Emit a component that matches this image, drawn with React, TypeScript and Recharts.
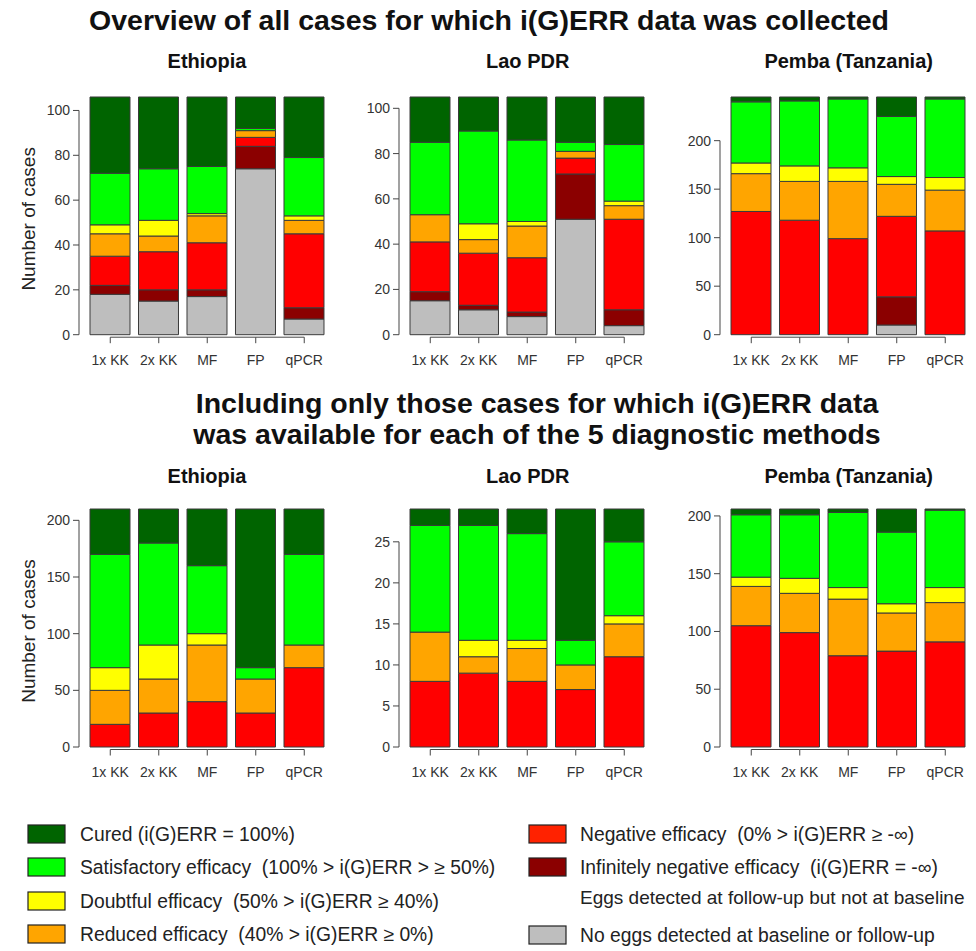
import React from 'react'
import { BarChart, Bar, XAxis, YAxis } from 'recharts'

const METHODS = ['1x KK', '2x KK', 'MF', 'FP', 'qPCR']

// overview of all cases, Ethiopia
const ethAllNoEggs = [18, 15, 17, 74, 7]
const ethAllInfNeg = [4, 5, 3, 10, 5]
const ethAllNegative = [13, 17, 21, 4, 33]
const ethAllReduced = [10, 7, 12, 3, 6]
const ethAllDoubtful = [4, 7, 1, 0, 2]
const ethAllSatisfactory = [23, 23, 21, 1, 26]
const ethAllCured = [34, 32, 31, 14, 27]

// overview of all cases, Lao PDR
const laoAllNoEggs = [15, 11, 8, 51, 4]
const laoAllInfNeg = [4, 2, 2, 20, 7]
const laoAllNegative = [22, 23, 24, 7, 40]
const laoAllReduced = [12, 6, 14, 3, 6]
const laoAllDoubtful = [0, 7, 2, 0, 2]
const laoAllSatisfactory = [32, 41, 36, 4, 25]
const laoAllCured = [20, 15, 19, 20, 21]

// overview of all cases, Pemba
const pemAllNoEggs = [0, 0, 0, 10, 0]
const pemAllInfNeg = [0, 0, 0, 29, 0]
const pemAllNegative = [127, 118, 99, 83, 107]
const pemAllReduced = [39, 40, 59, 33, 42]
const pemAllDoubtful = [11, 16, 14, 8, 13]
const pemAllSatisfactory = [63, 67, 71, 62, 81]
const pemAllCured = [5, 4, 2, 20, 2]

// complete cases only
const ethNegative = [20, 30, 40, 30, 70]
const ethReduced = [30, 30, 50, 30, 20]
const ethDoubtful = [20, 30, 10, 0, 0]
const ethSatisfactory = [100, 90, 60, 10, 80]
const ethCured = [40, 30, 50, 140, 40]

const laoNegative = [8, 9, 8, 7, 11]
const laoReduced = [6, 2, 4, 3, 4]
const laoDoubtful = [0, 2, 1, 0, 1]
const laoSatisfactory = [13, 14, 13, 3, 9]
const laoCured = [2, 2, 3, 16, 4]

const pemNegative = [105, 99, 79, 83, 91]
const pemReduced = [34, 34, 49, 33, 34]
const pemDoubtful = [8, 13, 10, 8, 13]
const pemSatisfactory = [54, 55, 65, 62, 67]
const pemCured = [5, 5, 3, 20, 1]
const NONE = [0, 0, 0, 0, 0]

const TICKS_100 = [0, 20, 40, 60, 80, 100]
const TICKS_200 = [0, 50, 100, 150, 200]
const TICKS_25 = [0, 5, 10, 15, 20, 25]

// stacking order, bottom to top
const SERIES = [
  { key: 'noEggs', color: '#bebebe' },
  { key: 'infNeg', color: '#8b0000' },
  { key: 'negative', color: '#ff0000' },
  { key: 'reduced', color: '#ffa500' },
  { key: 'doubtful', color: '#ffff00' },
  { key: 'satisfactory', color: '#00ff00' },
  { key: 'cured', color: '#006400' },
]

const LEGEND_LEFT = [
  { label: 'Cured (i(G)ERR = 100%)', color: '#006400' },
  { label: 'Satisfactory efficacy  (100% > i(G)ERR > ≥ 50%)', color: '#00ff00' },
  { label: 'Doubtful efficacy  (50% > i(G)ERR ≥ 40%)', color: '#ffff00' },
  { label: 'Reduced efficacy  (40% > i(G)ERR ≥ 0%)', color: '#ffa500' },
]
const LEGEND_RIGHT = [
  { label: 'Negative efficacy  (0% > i(G)ERR ≥ -∞)', color: '#ff2200' },
  { label: 'Infinitely negative efficacy  (i(G)ERR = -∞)', color: '#8b0000' },
  { label: 'No eggs detected at baseline or follow-up', color: '#bebebe' },
]
const LEFT_ROWS = [834, 867, 901, 934]
const RIGHT_ROWS = [834, 867, 935]

const FONT = '"Liberation Sans", Arial, sans-serif'
const AXIS = '#444'
const PLOT_W = 242.5
const Y_AXIS_W = 80
const M_TOP = 10
const M_RIGHT = 5
const X_AXIS_H = 50

function Panel({ series, ticks, total, plotLeft, plotTop, plotH, title, titleTop, yLabel }: any) {
  const data = METHODS.map((m, i) => {
    const row: any = { method: m }
    SERIES.forEach((s) => { row[s.key] = series[s.key][i] })
    return row
  })
  const stepPx = (plotH * (ticks[1] - ticks[0])) / total
  const band = PLOT_W / METHODS.length

  const YTick = ({ x, y, payload, index }: any) => {
    const ax = x - 7
    return (
      <g>
        {index < ticks.length - 1 && <line x1={ax} x2={ax} y1={y} y2={y - stepPx} stroke={AXIS} />}
        <line x1={ax} x2={ax - 6} y1={y} y2={y} stroke={AXIS} />
        <text x={ax - 9} y={y} textAnchor="end" dominantBaseline="central" fontSize={14} fill="#333" fontFamily={FONT}>
          {payload.value}
        </text>
      </g>
    )
  }

  const XTick = ({ x, y, payload, index }: any) => {
    const ly = y + 2.5
    return (
      <g>
        {index < METHODS.length - 1 && <line x1={x} x2={x + band} y1={ly} y2={ly} stroke={AXIS} />}
        <line x1={x} x2={x} y1={ly} y2={ly + 6} stroke={AXIS} />
        <text x={x} y={y + 25} textAnchor="middle" dominantBaseline="central" fontSize={14} fill="#333" fontFamily={FONT}>
          {payload.value}
        </text>
      </g>
    )
  }

  const chartW = Y_AXIS_W + PLOT_W + M_RIGHT
  const chartH = M_TOP + plotH + X_AXIS_H

  return (
    <div style={{ position: 'absolute', left: plotLeft - Y_AXIS_W, top: plotTop - M_TOP }}>
      <BarChart width={chartW} height={chartH} data={data} margin={{ top: M_TOP, right: M_RIGHT, left: 0, bottom: 0 }}>
        <XAxis dataKey="method" height={X_AXIS_H} axisLine={false} tickLine={false} tickSize={0} tickMargin={0}
          interval={0} tick={<XTick />} />
        <YAxis width={Y_AXIS_W} domain={[0, total]} ticks={ticks} axisLine={false} tickLine={false}
          tickSize={0} tickMargin={0} tick={<YTick />}
          label={yLabel ? ({ viewBox }: any) => {
            const cx = viewBox.x + 22
            const cy = viewBox.y + viewBox.height / 2 + 3
            return (
              <text x={cx} y={cy} transform={`rotate(-90 ${cx} ${cy})`} textAnchor="middle" dominantBaseline="central"
                fontSize={19} fill="#222" fontFamily={FONT}>Number of cases</text>
            )
          } : undefined} />
        {SERIES.map((s) => (
          <Bar key={s.key} dataKey={s.key} stackId="a" fill={s.color} stroke="#3a3a3a" strokeWidth={1}
            barSize={40} isAnimationActive={false} />
        ))}
      </BarChart>
      <div style={{ position: 'absolute', left: Y_AXIS_W, top: titleTop - plotTop + M_TOP, width: PLOT_W, textAlign: 'center',
        fontFamily: FONT, fontWeight: 'bold', fontSize: 20, color: '#111' }}>{title}</div>
    </div>
  )
}

export default function App() {
  const cols = [85.75, 406.45, 727.45]
  return (
    <div style={{ position: 'absolute', left: 0, top: 0, width: 976, height: 951, background: '#fff', fontFamily: FONT }}>
      <svg width={976} height={951} style={{ position: 'absolute', left: 0, top: 0 }}>
        <g fontFamily={FONT} fill="#111" fontWeight="bold" textAnchor="middle" fontSize={28.5}>
          <text x={489} y={30}>Overview of all cases for which i(G)ERR data was collected</text>
          <text x={537} y={413}>Including only those cases for which i(G)ERR data</text>
          <text x={537} y={444}>was available for each of the 5 diagnostic methods</text>
        </g>
        <g fontFamily={FONT} fontSize={19.3} fill="#222">
          {LEGEND_LEFT.map((l, i) => (
            <g key={l.label}>
              <rect x={28} y={LEFT_ROWS[i] - 9} width={37} height={18} fill={l.color} stroke="#222" strokeWidth={1.2} />
              <text x={80} y={LEFT_ROWS[i]} dominantBaseline="central" style={{ whiteSpace: 'pre' }}>{l.label}</text>
            </g>
          ))}
          {LEGEND_RIGHT.map((l, i) => (
            <g key={l.label}>
              <rect x={529} y={RIGHT_ROWS[i] - 9} width={37} height={18} fill={l.color} stroke="#222" strokeWidth={1.2} />
              <text x={580} y={RIGHT_ROWS[i]} dominantBaseline="central" style={{ whiteSpace: 'pre' }}>{l.label}</text>
            </g>
          ))}
          <text x={580} y={897} dominantBaseline="central" fontSize={19}>Eggs detected at follow-up but not at baseline</text>
        </g>
      </svg>

      <Panel title="Ethiopia" plotLeft={cols[0]} plotTop={97.3} plotH={237.7} titleTop={50} total={106} ticks={TICKS_100} yLabel
        series={{ noEggs: ethAllNoEggs, infNeg: ethAllInfNeg, negative: ethAllNegative, reduced: ethAllReduced,
          doubtful: ethAllDoubtful, satisfactory: ethAllSatisfactory, cured: ethAllCured }} />
      <Panel title="Lao PDR" plotLeft={cols[1]} plotTop={97.3} plotH={237.7} titleTop={50} total={105} ticks={TICKS_100}
        series={{ noEggs: laoAllNoEggs, infNeg: laoAllInfNeg, negative: laoAllNegative, reduced: laoAllReduced,
          doubtful: laoAllDoubtful, satisfactory: laoAllSatisfactory, cured: laoAllCured }} />
      <Panel title="Pemba (Tanzania)" plotLeft={cols[2]} plotTop={97.3} plotH={237.7} titleTop={50} total={245} ticks={TICKS_200}
        series={{ noEggs: pemAllNoEggs, infNeg: pemAllInfNeg, negative: pemAllNegative, reduced: pemAllReduced,
          doubtful: pemAllDoubtful, satisfactory: pemAllSatisfactory, cured: pemAllCured }} />

      <Panel title="Ethiopia" plotLeft={cols[0]} plotTop={509} plotH={238} titleTop={465} total={210} ticks={TICKS_200} yLabel
        series={{ noEggs: NONE, infNeg: NONE, negative: ethNegative, reduced: ethReduced,
          doubtful: ethDoubtful, satisfactory: ethSatisfactory, cured: ethCured }} />
      <Panel title="Lao PDR" plotLeft={cols[1]} plotTop={509} plotH={238} titleTop={465} total={29} ticks={TICKS_25}
        series={{ noEggs: NONE, infNeg: NONE, negative: laoNegative, reduced: laoReduced,
          doubtful: laoDoubtful, satisfactory: laoSatisfactory, cured: laoCured }} />
      <Panel title="Pemba (Tanzania)" plotLeft={cols[2]} plotTop={509} plotH={238} titleTop={465} total={206} ticks={TICKS_200}
        series={{ noEggs: NONE, infNeg: NONE, negative: pemNegative, reduced: pemReduced,
          doubtful: pemDoubtful, satisfactory: pemSatisfactory, cured: pemCured }} />
    </div>
  )
}
